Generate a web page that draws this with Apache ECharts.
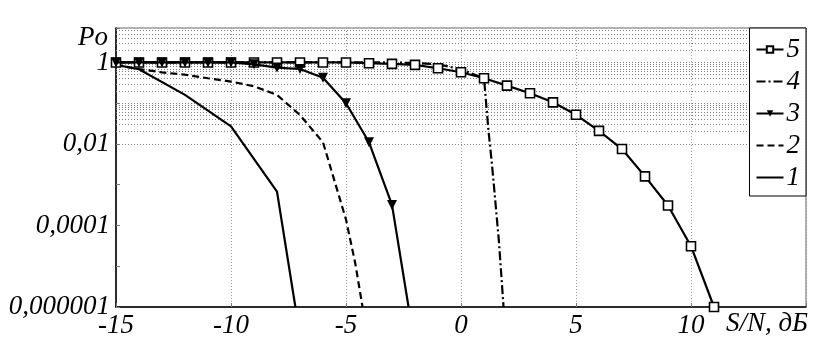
<!DOCTYPE html>
<html>
<head>
<meta charset="utf-8">
<script src="https://cdn.jsdelivr.net/npm/echarts@6/dist/echarts.min.js"></script>
<style>
html,body{margin:0;padding:0;background:#fff;}
#c{width:829px;height:345px;}
</style>
</head>
<body>
<div id="c"></div>
<script>
// ---- data ----
const s1x = [-15, -14, -12, -10, -8, -7.2];
const s1y = [0.87, 0.68, 0.16, 0.027, 0.00068, 0.000001];

const s2x = [-15, -14, -13, -12, -11, -10, -9, -8, -7, -6, -5, -4.6, -4.28];
const s2y = [0.87, 0.69, 0.57, 0.5, 0.41, 0.34, 0.26, 0.16, 0.051, 0.011, 0.00014, 0.000012, 0.000001];

const s3x = [-15, -14, -13, -12, -11, -10, -9, -8, -7, -6, -5, -4, -3, -2.28];
const s3y = [1, 1, 1, 1, 1, 1, 0.9, 0.75, 0.69, 0.42, 0.1, 0.011, 0.00032, 0.000001];

const s4x = [-15, -14, -13, -12, -11, -10, -9, -8, -7, -6, -5, -4, -3, -2, -1, 0, 1, 1.1, 1.2, 1.35, 1.5, 1.65, 1.85];
const s4y = [1, 1, 1, 1, 1, 1, 1, 1, 1, 1, 1, 1, 1, 0.97, 0.9, 0.68, 0.41, 0.09, 0.02, 0.003, 0.00035, 0.00004, 0.000001];

const s5x = [-15, -14, -13, -12, -11, -10, -9, -8, -7, -6, -5, -4, -3, -2, -1, 0, 1, 2, 3, 4, 5, 6, 7, 8, 9, 10, 11];
const s5y = [1, 1, 1, 1, 1, 1, 1, 1, 1, 1, 1, 0.955, 0.92, 0.87, 0.72, 0.575, 0.41, 0.27, 0.176, 0.105, 0.052, 0.021, 0.0075, 0.0016, 0.00031, 0.000031, 0.000001];

const legendOrder = ['5', '4', '3', '2', '1'];
const xName = 'S/N, дБ';
const yName = 'Po';

// ---- helpers ----
const FONT = '"Liberation Serif", "Times New Roman", Times, serif';
const FS = 27;
const pairs = (xs, ys) => xs.map((x, i) => [x, ys[i]]);

// minor log grid values (2..9 x 10^k) inside the axis range
const yMin = 1e-6, yMax = 7;
const minorVals = [];
for (let e = -6; e <= 0; e++) {
  for (let m = 2; m <= 9; m++) {
    const v = m * Math.pow(10, e);
    if (v < yMax) minorVals.push(v);
  }
}
const decadeVals = [];
for (let e = -5; e <= 0; e++) decadeVals.push(Math.pow(10, e));

function yLabel(v) {
  const l = Math.log10(v);
  const e = Math.round(l);
  if (Math.abs(l - e) > 1e-6) return '';
  if (e % 2 !== 0) return '';
  if (e >= 0) return String(Math.round(v));
  return v.toFixed(-e).replace('.', ',');
}

const chart = echarts.init(document.getElementById('c'), null, {renderer: 'canvas'});

const s3data = pairs(s3x, s3y).map((p, i) => i === s3x.length - 1 ? {value: p, symbol: 'none'} : p);
const noMark = {color: 'rgba(0,0,0,0)', borderWidth: 0};

const option = {
  animation: false,
  backgroundColor: '#fff',
  textStyle: {fontFamily: FONT},
  grid: {left: 116, right: 23, top: 28, bottom: 38, show: true, borderColor: '#666', borderWidth: 1, backgroundColor: 'transparent'},
  xAxis: {
    type: 'value', min: -15, max: 15, interval: 5,
    axisLine: {show: true, onZero: false, lineStyle: {color: '#000', width: 1.5}},
    axisTick: {show: true, inside: true, length: 4, lineStyle: {color: '#777'}},
    axisLabel: {
      margin: 5, color: '#000', fontFamily: FONT, fontStyle: 'italic', fontSize: FS,
      formatter: v => v === 15 ? '' : String(v)
    },
    splitLine: {show: true, lineStyle: {color: '#999', type: [1, 2], width: 1}}
  },
  yAxis: {
    type: 'log', logBase: 10, min: yMin, max: yMax, interval: 1,
    axisLine: {show: true, onZero: false, lineStyle: {color: '#000', width: 1.5}},
    axisTick: {show: true, inside: true, length: 4, lineStyle: {color: '#777'}},
    axisLabel: {
      margin: 6, color: '#000', fontFamily: FONT, fontStyle: 'italic', fontSize: FS,
      formatter: yLabel
    },
    splitLine: {show: false}
  },
  legend: {
    data: legendOrder,
    orient: 'vertical',
    right: 23, top: 28,
    backgroundColor: '#fff',
    borderColor: '#000', borderWidth: 1, borderRadius: 0,
    padding: [8, 6, 5, 6],
    itemGap: 5, itemWidth: 27, itemHeight: 8,
    textStyle: {fontFamily: FONT, fontStyle: 'italic', fontSize: FS, color: '#000', padding: [0, 0, 0, -2]},
    z: 10
  },
  graphic: [
    {type: 'text', left: 78, top: 24, z: 10, style: {text: yName, fontFamily: FONT, fontStyle: 'italic', fontSize: FS, fill: '#000'}},
    {type: 'text', right: 21, top: 310, z: 10, style: {text: xName, fontFamily: FONT, fontStyle: 'italic', fontSize: FS, fill: '#000'}}
  ],
  series: [
    {
      name: 'grid', type: 'line', data: [], silent: true,
      markLine: {
        silent: true, symbol: ['none', 'none'], z: 1, animation: false,
        label: {show: false},
        lineStyle: {color: '#808080', type: [1, 2], width: 1},
        emphasis: {disabled: true},
        data: minorVals.concat(decadeVals).map(v => ({yAxis: v}))
      }
    },
    {
      name: '1', type: 'line', data: pairs(s1x, s1y), symbol: 'none',
      lineStyle: {color: '#000', width: 2.2}, itemStyle: noMark, z: 3
    },
    {
      name: '2', type: 'line', data: pairs(s2x, s2y), symbol: 'none',
      lineStyle: {color: '#000', width: 2.2, type: [7, 4]}, itemStyle: noMark, z: 3
    },
    {
      name: '4', type: 'line', data: pairs(s4x, s4y), symbol: 'none',
      lineStyle: {color: '#000', width: 2.2, type: [9, 3, 2, 3]}, itemStyle: noMark, z: 3
    },
    {
      name: '5', type: 'line', data: pairs(s5x, s5y), symbol: 'rect', symbolSize: 9,
      lineStyle: {color: '#000', width: 2.2}, itemStyle: {color: '#fff', borderColor: '#000', borderWidth: 1.6}, z: 4
    },
    {
      name: '3', type: 'line', data: s3data, symbol: 'triangle', symbolRotate: 180, symbolSize: 10,
      lineStyle: {color: '#000', width: 2.2}, itemStyle: {color: '#000'}, z: 5
    }
  ]
};
chart.setOption(option);
</script>
</body>
</html>
